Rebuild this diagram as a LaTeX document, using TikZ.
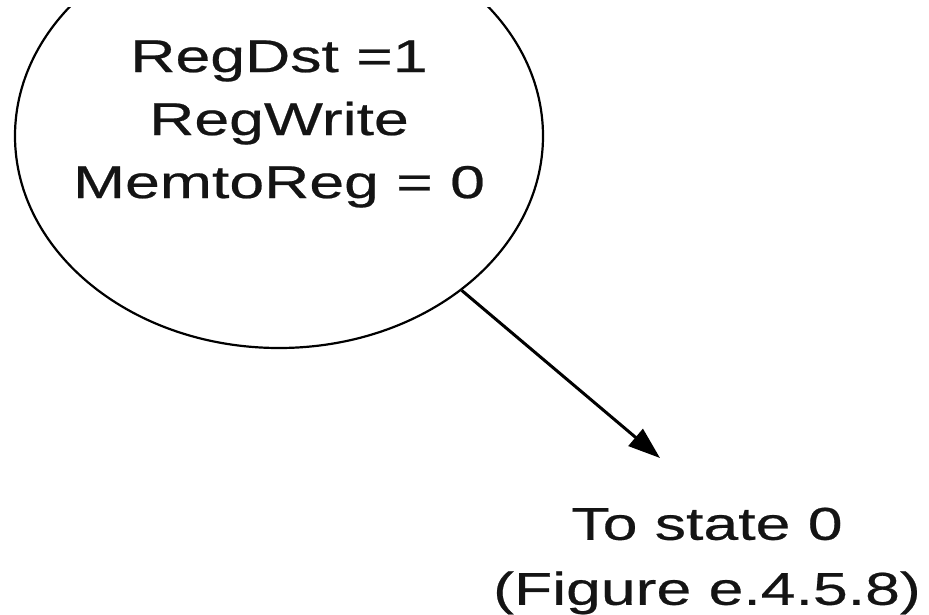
\documentclass[tikz,border=0pt]{standalone}
\usepackage{fontspec}
\setmainfont{Liberation Sans}[FakeStretch=1.36,FakeBold=0.5]
\usetikzlibrary{shapes.geometric,arrows.meta}
\begin{document}
\begin{tikzpicture}[x=1pt,y=-1pt,
  stateshape/.style={ellipse, draw=black, line width=2.2pt, minimum width=528pt, minimum height=424pt, inner sep=0pt},
  lbl/.style={align=center, inner sep=0pt, font=\fontsize{46}{63}\selectfont, text=black!92},
  conn/.style={line width=3pt, -{Triangle[length=32pt,width=22pt]}}]
\useasboundingbox (0,0) rectangle (929,615);
\begin{scope}
  \clip (0,8) rectangle (929,615);
  \node[stateshape] (s) at (279,136) {};
\end{scope}
\node[lbl] (stext) at (279,124) {RegDst =1\\RegWrite\\MemtoReg = 0};
\node[lbl, font=\fontsize{46}{65}\selectfont] (dest) at (707,561) {To state 0\\(Figure e.4.5.8)};
\coordinate (tip) at (660,458);
\draw[conn] (s) -- (tip);
\end{tikzpicture}
\end{document}
